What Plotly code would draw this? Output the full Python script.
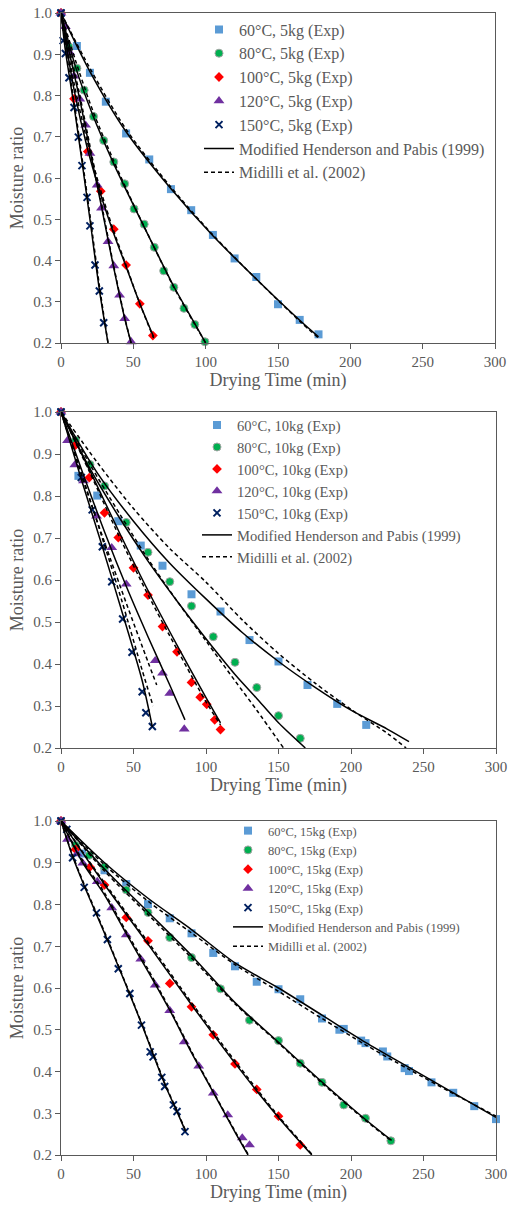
import plotly.graph_objects as go

FONT = "Liberation Serif"
GRAY = "#595959"

temps = ["60", "80", "100", "120", "150"]
masses = ["5kg", "10kg", "15kg"]

# ---------------- 5 kg : experimental ----------------
t_5kg = [
    [0, 11, 20, 31, 45, 61, 76, 90, 105, 120, 135, 150, 165, 178],
    [0, 5.5, 11, 16, 22.5, 29.5, 36.5, 44, 50.5, 57.5, 64.5, 71, 78, 85, 92.5, 99.5],
    [0, 9, 18.5, 27.5, 36.5, 45, 54.5, 63.5],
    [0, 3, 6, 9, 13, 17, 20, 25, 28, 32.5, 36.5, 40.5, 44, 48.5],
    [0, 1.5, 3, 5.5, 9, 12, 14.5, 18, 20, 23.5, 26.5, 29.5],
]
mr_5kg = [
    [1.0, 0.92, 0.855, 0.785, 0.708, 0.645, 0.573, 0.522, 0.462, 0.405, 0.36, 0.294, 0.256, 0.221],
    [1.0, 0.918, 0.866, 0.813, 0.749, 0.691, 0.639, 0.586, 0.525, 0.488, 0.432, 0.375, 0.335, 0.284, 0.245, 0.203],
    [1.0, 0.792, 0.664, 0.568, 0.476, 0.389, 0.295, 0.218],
    [1.0, 0.967, 0.904, 0.847, 0.791, 0.728, 0.66, 0.583, 0.527, 0.446, 0.387, 0.316, 0.259, 0.203],
    [1.0, 0.933, 0.902, 0.843, 0.771, 0.699, 0.63, 0.553, 0.484, 0.389, 0.326, 0.249],
]
# 5 kg : Modified Henderson and Pabis (1999)
mhp_t_5kg = [
    [0, 20, 45, 75, 105, 135, 165, 178],
    [0, 10, 22, 36, 50, 64, 78, 92, 100],
    [0, 9, 18, 27, 36, 45, 54, 64],
    [0, 6, 13, 20, 28, 36, 44, 48.5],
    [0, 3, 9, 14.5, 20, 26.5, 32.5],
]
mhp_mr_5kg = [
    [1.0, 0.858, 0.712, 0.578, 0.46, 0.355, 0.255, 0.215],
    [1.0, 0.87, 0.752, 0.638, 0.535, 0.435, 0.337, 0.25, 0.2],
    [1.0, 0.815, 0.675, 0.565, 0.47, 0.385, 0.3, 0.215],
    [1.0, 0.9, 0.79, 0.668, 0.53, 0.39, 0.26, 0.2],
    [1.0, 0.91, 0.775, 0.64, 0.5, 0.33, 0.2],
]
# 5 kg : Midilli et al. (2002)
mid_t_5kg = mhp_t_5kg
mid_mr_5kg = [
    [1.0, 0.866, 0.718, 0.582, 0.462, 0.355, 0.253, 0.212],
    [1.0, 0.885, 0.763, 0.645, 0.537, 0.435, 0.335, 0.248, 0.2],
    [1.0, 0.83, 0.69, 0.575, 0.476, 0.388, 0.3, 0.212],
    [1.0, 0.91, 0.8, 0.678, 0.537, 0.394, 0.262, 0.2],
    [1.0, 0.92, 0.785, 0.65, 0.51, 0.34, 0.2],
]

# ---------------- 10 kg : experimental ----------------
t_10kg = [
    [0, 12, 25, 39.5, 55, 70, 90, 110, 130, 150, 170, 190.5, 210.5],
    [0, 10, 20, 30, 45, 60, 75, 90, 105, 120, 135, 150, 165],
    [0, 10, 19.5, 30, 39.5, 50, 60, 70, 80, 90, 96, 100.5, 106, 110],
    [0, 4.5, 9.5, 15.5, 24.5, 35, 45, 65, 70, 75, 85],
    [0, 14, 21.5, 28.5, 35, 42.5, 49, 56, 58.5, 63],
]
mr_10kg = [
    [1.0, 0.848, 0.801, 0.74, 0.682, 0.634, 0.566, 0.525, 0.457, 0.406, 0.35, 0.305, 0.255],
    [1.0, 0.933, 0.875, 0.824, 0.737, 0.666, 0.596, 0.538, 0.465, 0.404, 0.344, 0.277, 0.223],
    [1.0, 0.921, 0.844, 0.76, 0.701, 0.629, 0.564, 0.489, 0.429, 0.356, 0.321, 0.304, 0.267, 0.244],
    [1.0, 0.932, 0.874, 0.836, 0.752, 0.677, 0.59, 0.408, 0.378, 0.33, 0.245],
    [1.0, 0.844, 0.767, 0.679, 0.596, 0.507, 0.428, 0.334, 0.284, 0.251],
]
mhp_t_10kg = [
    [0, 25, 50, 75, 100, 125, 150, 175, 200, 225, 240],
    [0, 20, 40, 60, 80, 100, 120, 135, 150, 168.5],
    [0, 20, 40, 60, 80, 100, 110],
    [0, 15, 30, 45, 60, 75, 85.5],
    [0, 14, 28, 42, 56, 63],
]
mhp_mr_10kg = [
    [1.0, 0.855, 0.74, 0.64, 0.555, 0.475, 0.406, 0.345, 0.29, 0.245, 0.215],
    [1.0, 0.865, 0.75, 0.645, 0.55, 0.46, 0.375, 0.318, 0.26, 0.2],
    [1.0, 0.86, 0.715, 0.575, 0.445, 0.32, 0.26],
    [1.0, 0.855, 0.715, 0.585, 0.465, 0.35, 0.267],
    [1.0, 0.84, 0.685, 0.525, 0.36, 0.25],
]
mid_t_10kg = [
    [0, 25, 50, 75, 100, 125, 150, 175, 200, 225, 238],
    [0, 20, 40, 60, 80, 100, 120, 135, 153.5],
    [0, 20, 40, 60, 80, 100, 110],
    [0, 15, 30, 45, 60, 66],
    [0, 14, 28, 42, 56, 63.5],
]
mid_mr_10kg = [
    [1.0, 0.88, 0.77, 0.675, 0.595, 0.505, 0.425, 0.355, 0.292, 0.235, 0.2],
    [1.0, 0.875, 0.76, 0.65, 0.55, 0.455, 0.36, 0.29, 0.2],
    [1.0, 0.855, 0.705, 0.565, 0.435, 0.31, 0.255],
    [1.0, 0.84, 0.69, 0.545, 0.405, 0.35],
    [1.0, 0.855, 0.705, 0.55, 0.385, 0.3],
]

# ---------------- 15 kg : experimental ----------------
t_15kg = [
    [0, 14.5, 30, 45, 60, 75, 90, 105, 120, 135, 150, 165, 180, 192, 195, 207, 210, 222, 225, 237, 240, 255.5, 270.5, 285, 300],
    [0, 10, 19.5, 30, 45, 60, 75, 90, 110, 130, 150, 165, 180, 195, 210, 227.5],
    [0, 10, 20, 30, 45, 60, 75, 90, 105, 120, 135, 150, 165],
    [0, 4.5, 11, 15, 25, 35, 45, 55, 65, 75, 85, 95, 105, 115, 125, 130],
    [0, 4, 8, 16, 24.5, 32, 39.5, 47.5, 55.5, 61.5, 63.5, 69.5, 71.5, 77.5, 80, 85.5],
]
mr_15kg = [
    [1.0, 0.922, 0.882, 0.849, 0.801, 0.767, 0.731, 0.684, 0.652, 0.615, 0.597, 0.573, 0.527, 0.5, 0.502, 0.474, 0.468, 0.448, 0.436, 0.408, 0.401, 0.374, 0.349, 0.317, 0.286],
    [1.0, 0.942, 0.918, 0.89, 0.835, 0.781, 0.721, 0.673, 0.598, 0.523, 0.474, 0.42, 0.374, 0.32, 0.288, 0.234],
    [1.0, 0.932, 0.89, 0.847, 0.769, 0.713, 0.611, 0.555, 0.488, 0.418, 0.357, 0.293, 0.224],
    [1.0, 0.956, 0.921, 0.899, 0.855, 0.792, 0.727, 0.669, 0.607, 0.546, 0.471, 0.413, 0.348, 0.296, 0.241, 0.224],
    [1.0, 0.98, 0.912, 0.841, 0.78, 0.716, 0.646, 0.587, 0.511, 0.447, 0.435, 0.386, 0.364, 0.32, 0.304, 0.256],
]
mhp_t_15kg = [
    [0, 30, 60, 90, 120, 150, 180, 210, 240, 270, 300],
    [0, 30, 60, 90, 120, 150, 180, 210, 228],
    [0, 30, 60, 90, 120, 150, 173],
    [0, 15, 30, 45, 60, 75, 90, 105, 120, 129],
    [0, 8, 16, 24, 32, 40, 48, 56, 64, 72, 80, 86],
]
mhp_mr_15kg = [
    [1.0, 0.9, 0.815, 0.74, 0.66, 0.6, 0.535, 0.47, 0.41, 0.35, 0.29],
    [1.0, 0.885, 0.782, 0.678, 0.565, 0.47, 0.375, 0.285, 0.235],
    [1.0, 0.848, 0.705, 0.56, 0.42, 0.29, 0.2],
    [1.0, 0.9, 0.823, 0.73, 0.64, 0.547, 0.445, 0.35, 0.255, 0.2],
    [1.0, 0.915, 0.845, 0.78, 0.715, 0.648, 0.58, 0.51, 0.437, 0.366, 0.304, 0.256],
]
mid_t_15kg = mhp_t_15kg
mid_mr_15kg = [
    [1.0, 0.895, 0.808, 0.732, 0.656, 0.592, 0.527, 0.464, 0.405, 0.348, 0.293],
    [1.0, 0.88, 0.776, 0.672, 0.562, 0.468, 0.372, 0.283, 0.233],
    [1.0, 0.852, 0.71, 0.565, 0.425, 0.293, 0.202],
    [1.0, 0.905, 0.828, 0.735, 0.645, 0.55, 0.448, 0.352, 0.257, 0.202],
    [1.0, 0.918, 0.848, 0.783, 0.718, 0.65, 0.582, 0.512, 0.44, 0.368, 0.306, 0.258],
]

x_ticks = [0, 50, 100, 150, 200, 250, 300]
y_ticks = [0.2, 0.3, 0.4, 0.5, 0.6, 0.7, 0.8, 0.9, 1.0]

# ---------------- styles ----------------
marker_styles = [
    dict(symbol="square", size=8, color="#5B9BD5"),
    dict(symbol="circle", size=8, color="#00B050", line=dict(color="#A5A5A5", width=1)),
    dict(symbol="diamond", size=7.5, color="#FF0000"),
    dict(symbol="triangle-up", size=9.5, color="#7030A0"),
    dict(symbol="x-thin-open", size=7, color="#002060", line=dict(color="#002060", width=2)),
]

# panel geometry in pixels (W=508, H=1205): (left, right, top, bottom)
W, H = 508, 1205
panels_px = [(61, 495, 13, 343), (61, 496, 412, 748), (61, 496, 821, 1155)]
legend_px = [(199, 12.5, 16), (197, 409, 14.6), (228, 816, 12.5)]  # x-left, top, font size

panel_data = [
    (t_5kg, mr_5kg, mhp_t_5kg, mhp_mr_5kg, mid_t_5kg, mid_mr_5kg),
    (t_10kg, mr_10kg, mhp_t_10kg, mhp_mr_10kg, mid_t_10kg, mid_mr_10kg),
    (t_15kg, mr_15kg, mhp_t_15kg, mhp_mr_15kg, mid_t_15kg, mid_mr_15kg),
]

fig = go.Figure()
layout = {}

for p, (tx, my, ht, hm, dt, dm) in enumerate(panel_data):
    sfx = "" if p == 0 else str(p + 1)
    xa, ya, lg = "x" + sfx, "y" + sfx, "legend" + sfx
    for i in range(5):
        fig.add_trace(go.Scatter(
            x=tx[i], y=my[i], mode="markers", marker=marker_styles[i],
            name=f"{temps[i]}°C, {masses[p]} (Exp)", xaxis=xa, yaxis=ya,
            legend=lg, cliponaxis=False))
    for i in range(5):
        fig.add_trace(go.Scatter(
            x=ht[i], y=hm[i], mode="lines",
            line=dict(color="black", width=1.5, shape="spline", smoothing=0.8),
            name="Modified Henderson and Pabis (1999)", showlegend=(i == 0),
            xaxis=xa, yaxis=ya, legend=lg))
    for i in range(5):
        fig.add_trace(go.Scatter(
            x=dt[i], y=dm[i], mode="lines",
            line=dict(color="black", width=1.5, dash="4px,3px", shape="spline", smoothing=0.8),
            name="Midilli et al. (2002)", showlegend=(i == 0),
            xaxis=xa, yaxis=ya, legend=lg))

    l, r, t, b = panels_px[p]
    axis_common = dict(showline=True, linecolor=GRAY, linewidth=1, mirror=True,
                       showgrid=False, zeroline=False, ticks="outside", ticklen=5,
                       tickcolor=GRAY, tickwidth=1, automargin=False,
                       tickfont=dict(family=FONT, size=15, color=GRAY))
    layout["xaxis" + sfx] = dict(
        axis_common, domain=[l / W, r / W], range=[0, 300], tickvals=x_ticks,
        anchor=ya,
        title=dict(text="Drying Time (min)", font=dict(family=FONT, size=18, color=GRAY), standoff=4))
    layout["yaxis" + sfx] = dict(
        axis_common, domain=[1 - b / H, 1 - t / H], range=[0.2, 1.0], tickvals=y_ticks,
        tickformat=".1f", anchor=xa,
        title=dict(text="Moisture ratio", font=dict(family=FONT, size=18, color=GRAY), standoff=4))
    lx, ly, lfs = legend_px[p]
    layout[lg] = dict(x=lx / W, y=1 - ly / H, xanchor="left", yanchor="top",
                      bgcolor="rgba(0,0,0,0)", borderwidth=0, itemwidth=30,
                      font=dict(family=FONT, size=lfs, color=GRAY), traceorder="normal")

fig.update_layout(**layout)
fig.update_layout(width=W, height=H, margin=dict(l=0, r=0, t=0, b=0),
                  paper_bgcolor="white", plot_bgcolor="white", showlegend=True,
                  font=dict(family=FONT, color=GRAY))
fig.write_html("out.html", config={"displayModeBar": False})
